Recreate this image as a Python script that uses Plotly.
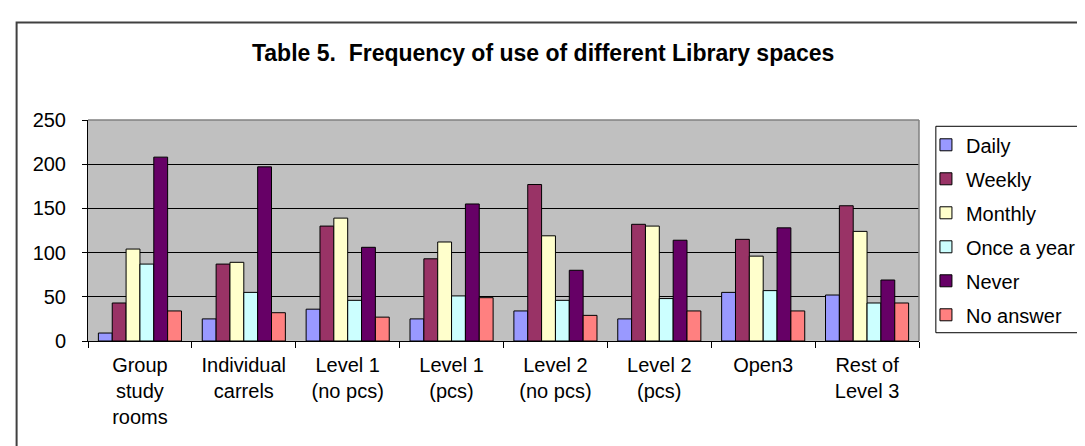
import plotly.graph_objects as go

categories = ["Group<br>study<br>rooms", "Individual<br>carrels", "Level 1<br>(no pcs)", "Level 1<br>(pcs)",
              "Level 2<br>(no pcs)", "Level 2<br>(pcs)", "Open3", "Rest of<br>Level 3"]
series_names = ["Daily", "Weekly", "Monthly", "Once a year", "Never", "No answer"]
daily = [9, 25, 36, 25, 34, 25, 55, 52]
weekly = [43, 87, 130, 93, 177, 132, 115, 153]
monthly = [104, 89, 139, 112, 119, 130, 96, 124]
once_a_year = [87, 55, 46, 51, 46, 48, 57, 43]
never = [208, 197, 106, 155, 80, 114, 128, 69]
no_answer = [34, 32, 27, 49, 29, 34, 34, 43]
colors = ["#9999FF", "#993366", "#FFFFCC", "#CCFFFF", "#660066", "#FF8080"]
y_ticks = [0, 50, 100, 150, 200, 250]

W, H = 1085, 446
L, R, T, B = 80, 918, 111.7, 333.3
pw, ph = R - L, B - T

def px(x):
    return (x - L) / pw

def py(y):
    return (B - y) / ph

FONT = "Arial, Liberation Sans, sans-serif"

fig = go.Figure()
for name, vals, col in zip(series_names, [daily, weekly, monthly, once_a_year, never, no_answer], colors):
    fig.add_trace(go.Bar(x=categories, y=vals, name=name, legendgroup=name,
                         marker=dict(color=col, line=dict(color="black", width=1))))

fig.update_layout(
    width=W, height=H,
    margin=dict(l=L, r=W - R, t=T, b=H - B, pad=0),
    paper_bgcolor="white", plot_bgcolor="#C0C0C0",
    barmode="group", bargap=0.2, bargroupgap=0,
    font=dict(family=FONT, size=20, color="black"),
    title=dict(text="<b>Table 5.  Frequency of use of different Library spaces</b>",
               font=dict(family=FONT, size=23, color="black"),
               x=px(539), xref="paper", xanchor="center",
               y=1 - 45 / H, yref="container", yanchor="middle"),
    legend=dict(x=px(925), xanchor="left", y=py(117), yanchor="top",
                bgcolor="rgba(0,0,0,0)", borderwidth=0,
                font=dict(family=FONT, size=20, color="black"),
                tracegroupgap=5, itemwidth=30),
    showlegend=True,
)
fig.update_xaxes(showline=True, linecolor="black", linewidth=1,
                 ticks="outside", tickson="boundaries", ticklen=6, tickcolor="black",
                 showgrid=False, ticklabelstandoff=6, tickfont=dict(size=20))
fig.update_yaxes(range=[0, 250], tickvals=y_ticks, showline=True, linecolor="black", linewidth=1,
                 ticks="outside", ticklen=5, tickcolor="black",
                 showgrid=True, gridcolor="black", gridwidth=1, zeroline=False,
                 ticklabelstandoff=12, tickfont=dict(size=20))

# plot area top/right edges in gray
fig.add_shape(type="line", xref="paper", yref="paper", x0=0, x1=1, y0=1, y1=1,
              line=dict(color="#808080", width=1.5), layer="above")
fig.add_shape(type="line", xref="paper", yref="paper", x0=1, x1=1, y0=0, y1=1,
              line=dict(color="#808080", width=1.5), layer="above")
# outer chart border
fig.add_shape(type="rect", xref="paper", yref="paper", x0=px(8), x1=px(1130), y0=py(480), y1=py(14),
              line=dict(color="#404040", width=2), fillcolor="rgba(0,0,0,0)", layer="above")
# legend box
fig.add_shape(type="rect", xref="paper", yref="paper", x0=px(935), x1=px(1130), y0=py(325), y1=py(118),
              line=dict(color="black", width=1), fillcolor="rgba(0,0,0,0)", layer="above")

fig.write_html("out.html")
